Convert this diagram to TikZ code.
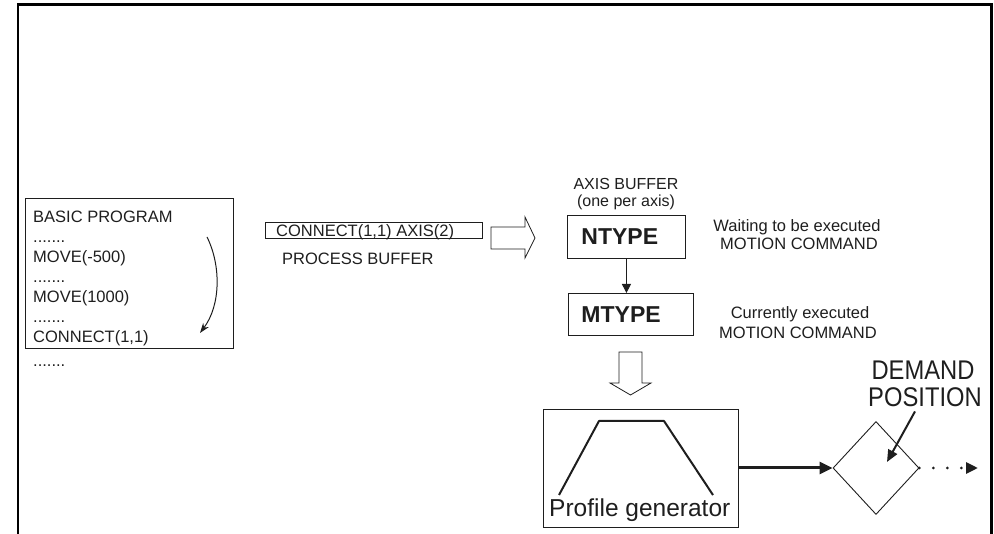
\documentclass[tikz,border=0pt]{standalone}
\usepackage{fontspec}
\setmainfont{Liberation Sans}
\usetikzlibrary{arrows.meta,shapes.geometric}
\definecolor{inkgray}{RGB}{30,30,30}
\newcommand{\listdots}{.......}
\tikzset{
  frameline/.style={draw=black,line width=2.6pt},
  thinbox/.style={draw=inkgray,line width=0.9pt,inner sep=0pt,anchor=north west},
  prgtext/.style={font=\fontsize{16.5}{20}\selectfont,inner sep=0pt,text=inkgray,anchor=base west},
  notetext/.style={font=\fontsize{16.5}{19}\selectfont,inner sep=0pt,text=inkgray,anchor=base},
  typebox/.style={thinbox,font=\fontsize{23}{26}\selectfont\bfseries,align=left,text=inkgray},
  bigtext/.style={font=\fontsize{24.5}{28}\selectfont,inner sep=0pt,text=inkgray,anchor=base west},
  hollowarrow/.style={draw=inkgray,line width=0.8pt,fill=white,line join=miter},
  stepline/.style={draw=inkgray,line width=1pt,-{Triangle[length=9pt,width=9pt]}},
  feedline/.style={draw=inkgray,line width=3pt,-{Triangle[length=13pt,width=12pt]}},
  pointline/.style={draw=inkgray,line width=2pt,-{Triangle[length=12pt,width=10pt]}},
  dotline/.style={draw=inkgray,line width=3pt,line cap=round,dash pattern=on 0pt off 14pt,
    -{Triangle[length=12pt,width=11pt,line cap=butt]}}
}

\begin{document}
\begin{tikzpicture}[x=1pt,y=-1pt]
  \useasboundingbox (0,0) rectangle (994,534);
  \draw[frameline] (18,534) -- (18,4.5) -- (991.5,4.5) -- (991.5,534);

  % program listing
  \node[thinbox,minimum width=208pt,minimum height=150pt] (prog) at (25,198) {};
  \foreach \txt [count=\i] in {BASIC PROGRAM,\listdots,MOVE(-500),\listdots,MOVE(1000),\listdots,{CONNECT(1,1)}}
    \node[prgtext] (line\i) at (33,203+20*\i) {\txt};
  \node[prgtext] (moredots) at (33,367) {\listdots};
  \coordinate (runstart) at (207,237);
  \coordinate (runend) at (200,333);
  \draw[inkgray,line width=1pt,-{Stealth[length=10pt,width=7pt]}]
    (runstart) .. controls (221,265) and (221,305) .. (runend);

  % process buffer
  \node[thinbox,minimum width=217pt,minimum height=16pt] (pbuf) at (265,222.5) {};
  \node[prgtext] (pbuftxt) at (276,236.5) {CONNECT(1,1) AXIS(2)};
  \node[prgtext] (pbufname) at (282,265) {PROCESS BUFFER};
  \draw[hollowarrow] (491,227) -- (525,227) -- (525,217) -- (535,238) -- (525,258)
    -- (525,249) -- (491,249) -- cycle;

  % axis buffer
  \node[notetext,font=\fontsize{16}{19}\selectfont] (axisbuf) at (626,190) {AXIS BUFFER};
  \node[notetext,font=\fontsize{16}{19}\selectfont] (peraxis) at (626,207) {(one per axis)};
  \node[typebox,minimum width=118pt,minimum height=43pt,inner xsep=14pt,text width=90pt] (ntype) at (567,215) {NTYPE};
  \node[typebox,minimum width=125pt,minimum height=42pt,inner xsep=13pt,text width=99pt] (mtype) at (568,293) {MTYPE};
  \draw[stepline] (ntype.south) -- (ntype.south |- mtype.north);
  \node[notetext] (waitline) at (797,232) {Waiting to be executed};
  \node[notetext] (waitcmd) at (799,250) {MOTION COMMAND};
  \node[notetext] (curline) at (800,319) {Currently executed};
  \node[notetext] (curcmd) at (798,339) {MOTION COMMAND};
  \draw[hollowarrow] (619,352) -- (642,352) -- (642,383) -- (651,383) -- (630.5,395)
    -- (610,383) -- (619,383) -- cycle;

  % profile generator
  \node[thinbox,minimum width=195pt,minimum height=118pt] (profile) at (543,409) {};
  \draw[inkgray,line width=2pt,line join=round] (559,495) -- (599,421) -- (664,421) -- (713,495);
  \node[bigtext] (proftxt) at (549,517) {Profile generator};

  % demand position
  \node[diamond,draw=inkgray,line width=0.9pt,inner sep=0pt,minimum width=86pt,minimum height=93pt,aspect=0.92] (dpos) at (876,468) {};
  \draw[feedline] (profile.east |- dpos.west) -- (dpos.west);
  \coordinate (dotend) at (978,468);
  \draw[dotline] (dpos.east) -- (dotend);
  \node[bigtext,anchor=base] (demtxt) at (923,380) {\scalebox{0.88}[1]{\fontsize{27}{30}\selectfont DEMAND}};
  \node[bigtext,anchor=base] (postxt) at (925,407) {\scalebox{0.88}[1]{\fontsize{27}{30}\selectfont POSITION}};
  \coordinate (dptip) at (887,462);
  \draw[pointline] ([xshift=-10pt,yshift=-4pt]postxt.south) -- (dptip);
\end{tikzpicture}
\end{document}
